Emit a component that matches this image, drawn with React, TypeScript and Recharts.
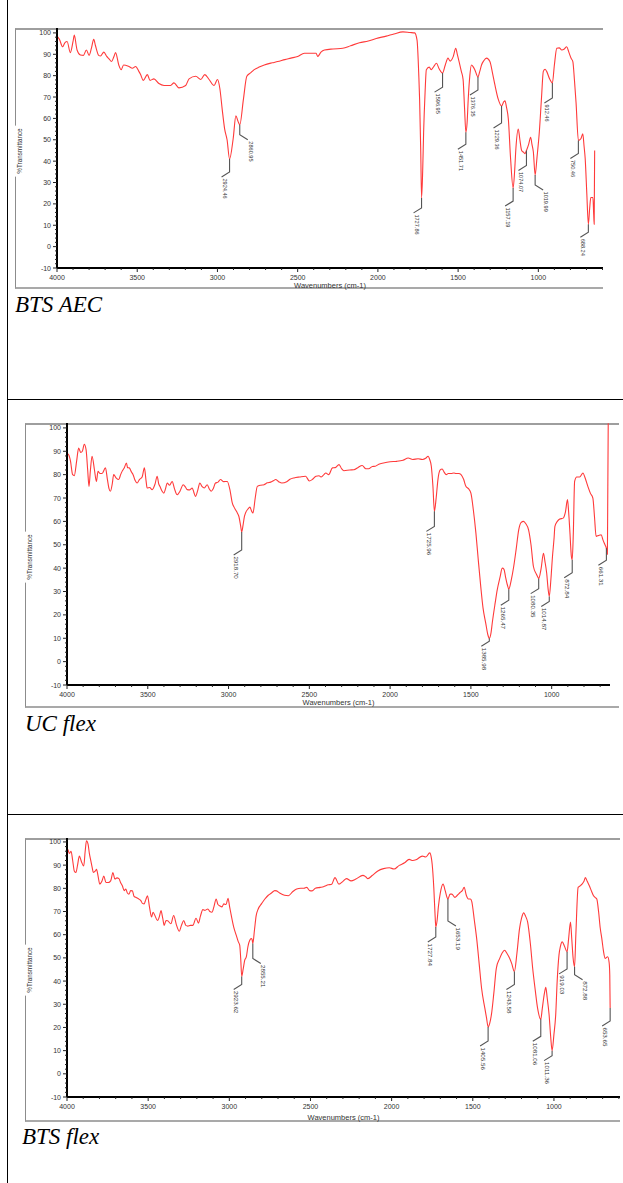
import React from 'react'
import { LineChart, Line, XAxis, YAxis, ReferenceDot } from 'recharts'

// FTIR spectra: wavenumber (cm-1) and %T

const AEC_W = [
  4000, 3985, 3965, 3950, 3937, 3917, 3900, 3892, 3880, 3875, 3854, 3835, 3817, 3800, 3785, 3771,
  3760, 3740, 3729, 3708, 3690, 3677, 3660, 3645, 3635, 3615, 3600, 3585, 3552, 3530, 3510, 3490,
  3479, 3462, 3437, 3420, 3396, 3365, 3333, 3292, 3271, 3240, 3198, 3177, 3135, 3104, 3079, 3052,
  3021, 3000, 2985, 2970, 2955, 2940, 2924.46, 2902, 2885, 2871, 2860.95, 2838, 2817, 2790, 2771,
  2740, 2708, 2660, 2625, 2580, 2542, 2500, 2458, 2420, 2385, 2375, 2355, 2333, 2280, 2219, 2170,
  2115, 2060, 2010, 1948, 1900, 1844, 1800, 1771, 1756, 1745, 1740, 1733, 1727.86, 1721, 1715,
  1706, 1698, 1680, 1667, 1650, 1635, 1620, 1615, 1596.95, 1580, 1563, 1550, 1530, 1515, 1505,
  1494, 1480, 1469, 1460, 1451.71, 1444, 1437, 1427, 1417, 1405, 1396, 1376.35, 1365, 1354, 1340,
  1323, 1302, 1285, 1271, 1250, 1229.36, 1215, 1208, 1198, 1187, 1173, 1157.19, 1148, 1140, 1125,
  1115, 1104, 1090, 1083, 1074.07, 1060, 1048, 1040, 1031, 1019.99, 1008, 994, 980, 969, 958, 948,
  930, 912.46, 900, 885, 870, 854, 838, 823, 810, 795, 785, 775, 765, 750.46, 735, 723, 715, 708,
  698, 688.24, 680, 673, 660, 655, 652, 649,
]
const AEC_T = [
  98.5, 97, 93.5, 95.5, 96, 90.8, 96, 99, 94, 92, 89.7, 89.5, 92, 89.5, 93, 97,
  94, 89.5, 89.2, 91, 89, 88, 86.6, 89, 90.8, 85, 82.8, 85, 84.3, 83.5, 84.3, 82,
  80.5, 77.8, 80.5, 77.8, 78.5, 76.3, 75.4, 75.4, 76.6, 74.3, 75.4, 78.5, 79.7, 78.2, 80.5, 78.2,
  75.4, 78.2, 74, 64, 55, 50, 41, 50.5, 61.2, 58.5, 57, 69, 79.7, 81.5, 82.8,
  84, 85, 86, 86.6, 87.5, 88.2, 89, 90.5, 90.5, 90.5, 89, 91, 92, 92.5, 92.8, 94,
  95.4, 96.2, 97.4, 98.5, 99.5, 100.5, 100.2, 100, 96.6, 80, 69, 45, 22.8, 35, 53.5,
  72, 82.8, 84, 82.8, 84.5, 85.8, 83.5, 82.8, 81.2, 85, 88.2, 86.8, 89, 92.8, 90,
  86.6, 82, 78.2, 65, 53.5, 58, 69, 80, 85, 84, 82.8, 79.4, 82, 85, 87,
  88.2, 86.6, 81, 75.8, 69, 65.8, 67.8, 68.2, 65, 59.7, 41.2, 27.4, 35, 45.8, 55,
  50, 45, 44, 43.5, 45, 48, 51.2, 48, 44.3, 33.5, 42, 53.5, 70, 82, 83, 82,
  78.5, 76.6, 85, 92.8, 93, 92, 92.5, 93.5, 91, 88, 86.6, 78, 67.4, 49.7, 50.5, 52.8, 47, 41.2,
  25, 10.5, 18, 23, 23, 15, 10.5, 45,
]
const AEC_PEAKS = [2924.46, 2860.95, 1727.86, 1596.95, 1451.71, 1376.35, 1229.36, 1157.19, 1074.07, 1019.99, 912.46, 750.46, 688.24]

const UC_W = [
  4000, 3990, 3979, 3965, 3955, 3940, 3928, 3915, 3905, 3893, 3882, 3872, 3864, 3855, 3845, 3830,
  3818, 3808, 3795, 3783, 3762, 3750, 3740, 3731, 3720, 3711, 3695, 3680, 3668, 3659, 3645, 3632,
  3625, 3615, 3600, 3591, 3578, 3566, 3552, 3535, 3521, 3510, 3504, 3488, 3473, 3455, 3442, 3432,
  3425, 3412, 3401, 3390, 3380, 3365, 3349, 3335, 3318, 3300, 3281, 3265, 3256, 3240, 3225, 3215,
  3205, 3190, 3178, 3165, 3150, 3132, 3120, 3107, 3095, 3081, 3065, 3050, 3030, 3008, 2990, 2977,
  2965, 2957, 2945, 2936, 2925, 2918.7, 2910, 2902, 2895, 2880, 2868, 2858, 2849, 2835, 2822, 2800,
  2781, 2760, 2740, 2720, 2709, 2690, 2670, 2640, 2620, 2595, 2560, 2523, 2500, 2480, 2459, 2440,
  2428, 2410, 2398, 2380, 2357, 2340, 2316, 2300, 2286, 2250, 2224, 2200, 2173, 2150, 2133, 2110,
  2092, 2070, 2041, 2000, 1959, 1920, 1888, 1860, 1827, 1800, 1780, 1765, 1755, 1745, 1735, 1725.96,
  1715, 1704, 1690, 1678, 1665, 1653, 1640, 1623, 1605, 1592, 1575, 1561, 1545, 1531, 1515, 1500,
  1485, 1469, 1455, 1439, 1425, 1408, 1395, 1385.98, 1375, 1368, 1350, 1337, 1320, 1306, 1295, 1286,
  1275, 1265.47, 1250, 1235, 1220, 1204, 1190, 1174, 1160, 1143, 1128, 1113, 1095, 1082, 1080.35,
  1065, 1051, 1042, 1031, 1022, 1014.87, 1005, 995, 985, 980, 965, 950, 929, 915, 902, 895, 888,
  878, 872.84, 866, 858, 845, 827, 806, 795, 776, 760, 745, 735, 725, 710, 694, 682, 670, 661.31,
  655, 650,
]
const UC_T = [
  89, 88.5, 86, 80, 79.6, 86, 91.4, 89.5, 90, 93, 90.7, 82, 75, 82, 87.9, 82,
  77.1, 81.4, 80.5, 80.5, 82.9, 78, 74, 72.9, 76, 80, 78.5, 77.9, 80, 81.4, 83, 85,
  83, 82.9, 81, 80, 77.5, 76.4, 77.9, 79, 82.9, 77, 74.3, 74.5, 73.6, 76, 79.3, 76,
  75, 73, 72.1, 74, 76.4, 75.5, 77.1, 74, 71.4, 73, 75.7, 74.5, 73.6, 73.5, 74.3, 72.5,
  70.7, 73.5, 76.4, 75, 74.3, 75.7, 74, 72.9, 74, 76.4, 76.8, 77.9, 77, 77.1, 73, 67.9,
  66, 65, 63.5, 62.1, 58, 55.5, 58.5, 62, 63.6, 65.3, 66.1, 64.5, 63.6, 70, 75, 75.5,
  75.7, 76.5, 76.8, 77.5, 77.9, 77, 76.4, 77, 78, 78.6, 79, 79.3, 77.3, 78, 79.3, 79.5,
  79, 80, 80.7, 80, 82.9, 83, 84.3, 82.5, 81.7, 82, 82.1, 83, 83.9, 82.5, 82.5, 83.5,
  83.6, 84.5, 85, 85.5, 85.7, 86.2, 87.1, 86.5, 86.8, 86.5, 87, 87.9, 86.5, 83.6, 75, 64.3,
  70, 77.9, 82, 82.4, 81, 80, 80.5, 80.5, 80.7, 80.5, 80.5, 80, 78, 75, 74, 72.1,
  65, 55, 44, 32.1, 23, 16.4, 11.5, 10, 12.5, 16.4, 25, 30.7, 36, 40, 39.5, 36.4,
  33, 31, 35, 40.7, 48, 56.4, 59.5, 60, 59, 56.4, 50, 40.7, 37.5, 35.7, 35.5,
  40, 46.4, 43, 37.9, 31, 27.9, 35, 45, 53, 57.9, 60, 61, 61.4, 64, 69.3, 64, 56.4,
  45, 43.6, 55, 77.1, 79, 79, 80.7, 79, 75, 72, 70, 62, 53.6, 54, 54.3, 52, 50, 48.5,
  46, 102,
]
const UC_PEAKS = [2918.7, 1725.96, 1385.98, 1265.47, 1080.35, 1014.87, 872.84, 661.31]

const FLEX_W = [
  4000, 3995, 3985, 3975, 3965, 3955, 3945, 3935, 3924, 3912, 3897, 3888, 3880, 3870, 3862, 3855,
  3845, 3838, 3825, 3818, 3808, 3798, 3785, 3773, 3760, 3745, 3731, 3717, 3705, 3692, 3680, 3670,
  3659, 3648, 3638, 3628, 3618, 3608, 3597, 3587, 3576, 3560, 3545, 3535, 3525, 3515, 3504, 3492,
  3479, 3470, 3460, 3442, 3430, 3421, 3410, 3401, 3390, 3380, 3360, 3343, 3325, 3308, 3295, 3281,
  3268, 3256, 3240, 3225, 3205, 3190, 3178, 3163, 3150, 3132, 3120, 3107, 3095, 3081, 3070, 3060,
  3045, 3034, 3020, 3008, 2998, 2988, 2972, 2957, 2945, 2936, 2930, 2923.62, 2915, 2905, 2895, 2885,
  2874, 2865, 2860, 2855.21, 2845, 2835, 2822, 2800, 2781, 2760, 2740, 2720, 2709, 2690, 2660, 2636,
  2610, 2585, 2560, 2540, 2523, 2505, 2490, 2470, 2440, 2420, 2390, 2369, 2349, 2325, 2300, 2278,
  2250, 2220, 2177, 2160, 2146, 2120, 2085, 2050, 2014, 1985, 1953, 1920, 1892, 1870, 1850, 1811,
  1790, 1765, 1755, 1750, 1740, 1732, 1727.84, 1720, 1712, 1700, 1683, 1670, 1659, 1653.19, 1640, 1629,
  1610, 1595, 1578, 1565, 1553, 1540, 1527, 1515, 1507, 1490, 1476, 1460, 1446, 1426, 1415, 1405.56,
  1395, 1385, 1370, 1355, 1334, 1320, 1304, 1290, 1273, 1260, 1243.58, 1228, 1212, 1200, 1186, 1175,
  1162, 1145, 1131, 1115, 1101, 1081.06, 1072, 1066, 1058, 1050, 1042, 1030, 1020, 1011.36, 1000, 989,
  980, 969, 960, 949, 935, 919.03, 910, 898, 890, 882, 872.88, 865, 851, 840, 827, 815, 806, 795, 782,
  770, 756, 745, 736, 725, 715, 705, 695, 685, 669, 660, 656, 653.65,
]
const FLEX_T = [
  92.5, 96.7, 95, 96, 92, 87.5, 86.8, 90, 93.9, 91.7, 89.6, 96, 100.5, 98.9, 95, 92.5,
  89, 86.8, 87.5, 88.2, 85, 81.8, 83, 85.3, 82.5, 82.5, 83.2, 86.8, 84, 84.5, 84.2, 82.5,
  81.1, 79, 79.7, 78, 77.5, 79, 78.9, 76.5, 76.1, 75.5, 74.7, 73.5, 73.3, 75, 76.8, 72,
  67.6, 69.7, 68.5, 66.1, 68, 70.4, 67, 64, 66.1, 66, 64.7, 68.3, 64, 61.5, 64, 66.1,
  64, 63.7, 64, 64, 67.1, 65, 68, 70.8, 70.5, 71.1, 70, 69.7, 72, 75.4, 73, 72.5,
  72, 73.3, 73, 75.7, 72, 68.3, 63, 59.7, 57, 55.5, 50, 42, 45, 49, 50.5, 55,
  57.6, 58.3, 58, 56.2, 62, 68, 71.1, 73.5, 75.4, 77, 78, 79, 78.9, 78, 77, 76.8,
  78.5, 79.7, 80, 80, 80.4, 79, 78.9, 80, 80.4, 80.7, 81.5, 81.8, 84.6, 81.8, 83, 84.2,
  83.2, 84, 85.6, 85, 84.2, 85.5, 87.5, 88.5, 88.9, 88.3, 89.9, 91, 92.5, 92, 92.3, 93.9,
  93.5, 95.3, 93, 90.3, 80, 68, 63.3, 66, 72, 78, 81.8, 79, 76.1, 75.4, 77.5, 77.5,
  76.1, 77, 78.2, 79, 80.4, 77, 75.4, 75.4, 74.5, 66, 58.3, 47, 37, 28.4, 24, 20.2,
  22, 25.6, 35, 45.5, 49.8, 52, 53.3, 52, 49.8, 47.5, 44.1, 52, 62.6, 67, 69.4, 68,
  65.4, 56, 45.5, 36, 28.4, 23.5, 28, 31.3, 35, 37.3, 33, 25.6, 16, 10, 17, 25.6,
  40, 51.2, 55, 56.9, 55, 52.6, 58, 65.4, 58, 50, 46.2, 60, 80.4, 81, 81.8, 83, 84.6, 83, 81.1,
  79, 76.8, 76, 75.4, 70, 63, 58.3, 53, 49.8, 50.5, 48, 42.7, 28.4,
]
const FLEX_PEAKS = [2923.62, 2855.21, 1727.84, 1653.19, 1405.56, 1243.58, 1081.06, 1011.36, 919.03, 872.88, 653.65]

const X_TICKS = [
  4000, 3900, 3800, 3700, 3600, 3500, 3400, 3300, 3200, 3100, 3000, 2900, 2800, 2700, 2600, 2500,
  2400, 2300, 2200, 2100, 2000, 1900, 1800, 1700, 1600, 1500, 1400, 1300, 1200, 1100, 1000, 900,
  800, 700, 600,
]
const Y_TICKS = [
  -10, -8, -6, -4, -2, 0, 2, 4, 6, 8, 10, 12, 14, 16, 18, 20, 22, 24, 26, 28, 30, 32, 34, 36, 38,
  40, 42, 44, 46, 48, 50, 52, 54, 56, 58, 60, 62, 64, 66, 68, 70, 72, 74, 76, 78, 80, 82, 84, 86,
  88, 90, 92, 94, 96, 98, 100,
]

// leader of each peak label: [length of the vertical stub, side it bends to]
const AEC_LEADERS: [number, string][] = [
  [13, 'L'], [10, 'R'], [10, 'L'], [14, 'L'], [12, 'L'], [13, 'L'], [17, 'L'],
  [13, 'L'], [15, 'L'], [10, 'R'], [15, 'L'], [13, 'L'], [8, 'L'],
]
const UC_LEADERS: [number, string][] = [
  [18, 'L'], [15, 'L'], [3, 'L'], [11, 'L'], [10, 'L'], [5, 'L'], [13, 'L'], [12, 'L'],
]
const FLEX_LEADERS: [number, string][] = [
  [8, 'L'], [15, 'R'], [10, 'L'], [22, 'R'], [14, 'L'], [13, 'L'], [17, 'L'],
  [5, 'L'], [17, 'L'], [8, 'R'], [13, 'L'],
]

const SANS = '"Liberation Sans", Arial, sans-serif'
const SERIF = '"Liberation Serif", "Times New Roman", serif'

const PANELS = [
  {
    caption: 'BTS AEC', w: AEC_W, t: AEC_T, peaks: AEC_PEAKS, leaders: AEC_LEADERS,
    frameLeft: 15, frameRight: 603, plotLeft: 57, plotRight: 603, plotTop: 28, plotBottom: 268,
    frameBottom: 289, xMin: 597, yMax: 102.3, captionLeft: 15, captionBase: 312, wnY: 286, peakFont: 5.6,
  },
  {
    caption: 'UC flex', w: UC_W, t: UC_T, peaks: UC_PEAKS, leaders: UC_LEADERS,
    frameLeft: 25, frameRight: 619, plotLeft: 67, plotRight: 610, plotTop: 423, plotBottom: 685,
    frameBottom: 708, xMin: 639, yMax: 102.1, captionLeft: 25, captionBase: 731, wnY: 703, peakFont: 6.2,
  },
  {
    caption: 'BTS flex', w: FLEX_W, t: FLEX_T, peaks: FLEX_PEAKS, leaders: FLEX_LEADERS,
    frameLeft: 25, frameRight: 620, plotLeft: 67, plotRight: 620, plotTop: 838, plotBottom: 1097,
    frameBottom: 1122, xMin: 593, yMax: 101.7, captionLeft: 22, captionBase: 1144, wnY: 1118, peakFont: 6.2,
  },
]

function YTick({ x, y, payload }: any) {
  const v = payload.value
  const major = v % 10 === 0
  return (
    <g>
      <line x1={x - (major ? 4 : 2)} x2={x} y1={y} y2={y} stroke="#222" strokeWidth={1} />
      {major && (
        <text x={x - 6} y={y} textAnchor="end" dominantBaseline="central" fill="#333" style={{ fontFamily: SANS, fontSize: 7 }}>
          {v}
        </text>
      )}
    </g>
  )
}

function XTick({ x, y, payload }: any) {
  const v = payload.value
  const major = v % 500 === 0
  return (
    <g>
      <line x1={x} x2={x} y1={y} y2={y + (major ? 4 : 2)} stroke="#222" strokeWidth={1} />
      {major && (
        <text x={x} y={y + 9.5} textAnchor="middle" dominantBaseline="central" fill="#333" style={{ fontFamily: SANS, fontSize: 7 }}>
          {v}
        </text>
      )}
    </g>
  )
}

function PeakMark({ cx, cy, text, len, side, font }: any) {
  const ex = cx + (side === 'R' ? 8 : -8)
  const ey = cy + len + 5
  const tx = ex + 3
  const ty = ey + 1.5
  return (
    <g>
      <polyline points={`${cx},${cy} ${cx},${cy + len} ${ex},${ey}`} fill="none" stroke="#555" strokeWidth={1.1} />
      <text
        x={tx} y={ty} transform={`rotate(90 ${tx} ${ty})`} dominantBaseline="central" fill="#333"
        style={{ fontFamily: SANS, fontSize: font }}
      >
        {text}
      </text>
    </g>
  )
}

function Spectrum({ p }: any) {
  const data = p.w.map((w: number, i: number) => ({ w, t: p.t[i] }))
  const chartW = p.plotRight - p.frameLeft
  const chartH = p.frameBottom - p.plotTop
  const xTicks = X_TICKS.filter((v) => v >= p.xMin)
  const midY = (p.plotTop + 5 + p.plotBottom) / 2
  return (
    <>
      <div
        style={{
          position: 'absolute', left: p.frameLeft, top: p.plotTop, width: p.frameRight - p.frameLeft,
          height: chartH, boxSizing: 'border-box', borderTop: '2px solid #9e9e9e',
          borderLeft: '1px solid #8c8c8c', borderBottom: '2px solid #a9a9a9',
        }}
      />
      <div style={{ position: 'absolute', left: p.frameLeft, top: p.plotTop }}>
        <LineChart width={chartW} height={chartH} data={data} margin={{ top: 0, right: 0, bottom: 0, left: 0 }}>
          <XAxis
            type="number" dataKey="w" domain={[p.xMin, 4000]} reversed allowDataOverflow
            ticks={xTicks} interval={0} tickSize={0} tickMargin={0} tick={<XTick />}
            height={p.frameBottom - p.plotBottom} axisLine={{ stroke: '#000', strokeWidth: 2 }} tickLine={false}
          />
          <YAxis
            type="number" domain={[-10, p.yMax]} allowDataOverflow ticks={Y_TICKS} interval={0}
            tickSize={0} tickMargin={0} tick={<YTick />} width={p.plotLeft - p.frameLeft}
            axisLine={{ stroke: '#000', strokeWidth: 2 }} tickLine={false}
          />
          <Line
            type="monotone" dataKey="t" stroke="#ff3a3a" strokeWidth={1.1} dot={false}
            activeDot={false} isAnimationActive={false}
          />
          {p.peaks.map((w: number, i: number) => (
            <ReferenceDot
              key={w} x={w} y={p.t[p.w.indexOf(w)]} r={0}
              shape={(s: any) => (
                <PeakMark cx={s.cx} cy={s.cy} text={w.toFixed(2)} len={p.leaders[i][0]} side={p.leaders[i][1]} font={p.peakFont} />
              )}
            />
          ))}
        </LineChart>
      </div>
      <div
        style={{
          position: 'absolute', left: p.frameLeft + 5, top: midY, transform: 'translate(-50%, -50%) rotate(-90deg)',
          background: '#fff', fontFamily: SANS, fontSize: 6.3, color: '#333', lineHeight: '10px',
          height: 10, padding: '0 3px', whiteSpace: 'nowrap',
        }}
      >
        %Transmittance
      </div>
      <div
        style={{
          position: 'absolute', left: (p.plotLeft + p.plotRight) / 2, top: p.wnY, transform: 'translate(-50%, -50%)',
          fontFamily: SANS, fontSize: 7.5, color: '#333', whiteSpace: 'nowrap', lineHeight: 1,
        }}
      >
        Wavenumbers (cm-1)
      </div>
      <div
        style={{
          position: 'absolute', left: p.captionLeft, top: p.captionBase - 19.3, fontFamily: SERIF,
          fontStyle: 'italic', fontSize: 23, lineHeight: '23px', color: '#000', whiteSpace: 'nowrap',
        }}
      >
        {p.caption}
      </div>
    </>
  )
}

export default function App() {
  return (
    <div style={{ position: 'absolute', left: 0, top: 0, width: 623, height: 1183, background: '#fff', overflow: 'hidden' }}>
      <div style={{ position: 'absolute', left: 7, top: 0, width: 1, height: 1183, background: '#000' }} />
      <div style={{ position: 'absolute', left: 7, top: 399, width: 616, height: 1, background: '#000' }} />
      <div style={{ position: 'absolute', left: 7, top: 814, width: 616, height: 1, background: '#000' }} />
      {PANELS.map((p) => (
        <Spectrum key={p.caption} p={p} />
      ))}
    </div>
  )
}
